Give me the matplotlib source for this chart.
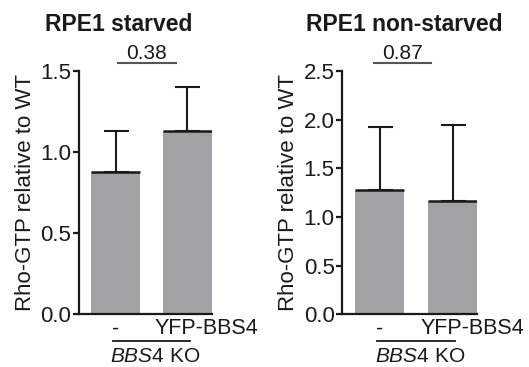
import numpy as np
import matplotlib
matplotlib.use("Agg")
import matplotlib.pyplot as plt
import matplotlib.transforms as mtransforms

plt.rcParams['font.family'] = ['Liberation Sans', 'DejaVu Sans']
plt.rcParams['mathtext.fontset'] = 'custom'
plt.rcParams['mathtext.rm'] = 'Liberation Sans'
plt.rcParams['mathtext.it'] = 'Liberation Sans:italic'

# data
conditions = ["-", "YFP-BBS4"]
starved_mean = [0.88, 1.13]
starved_err = [0.25, 0.275]
nonstarved_mean = [1.28, 1.16]
nonstarved_err = [0.65, 0.79]
pvals = ["0.38", "0.87"]
titles = ["RPE1 starved", "RPE1 non-starved"]
ymax = [1.5, 2.5]
yticks = [np.arange(0, 1.51, 0.5), np.arange(0, 2.51, 0.5)]

bar_color = "#a2a1a6"
ink = "#1a1a1a"
w = 0.67

fig = plt.figure(figsize=(5.29, 3.67), dpi=100)
ax1 = fig.add_axes([0.149, 0.144, 0.251, 0.662])
ax2 = fig.add_axes([0.647, 0.144, 0.255, 0.662])

# per-panel positions that do not follow from the data
title_x = [0.30, 0.46]
sig_span = [(0.03, 0.84), (-0.08, 0.71)]

panels = [(ax1, starved_mean, starved_err), (ax2, nonstarved_mean, nonstarved_err)]
for i, (ax, mean, err) in enumerate(panels):
    x = np.arange(len(conditions))
    ax.bar(x, mean, width=w, color=bar_color, edgecolor="none", zorder=2)
    ax.errorbar(x, mean, yerr=[np.zeros(len(err)), err], fmt="none",
                ecolor=ink, elinewidth=1.5, capsize=9, capthick=1.5, zorder=3)
    ax.hlines(mean, x - w / 2, x + w / 2, colors=ink, linewidth=1.8, zorder=4)

    ax.set_xlim(-0.51, 1 + w / 2)
    ax.set_ylim(0, ymax[i])
    ax.set_yticks(yticks[i])
    ax.set_yticklabels([f"{t:.1f}" for t in yticks[i]], fontsize=16, color=ink)
    ax.tick_params(axis="y", length=4.5, width=1.6, pad=1, colors=ink)
    ax.set_xticks(x)
    ax.set_xticklabels(conditions, fontsize=15.5, color=ink)
    ax.tick_params(axis="x", length=0, pad=3)
    # YFP-BBS4 label sits right of its bar centre in the reference
    lab = ax.get_xticklabels()[1]
    off = mtransforms.ScaledTranslation(14 / 72, 0, fig.dpi_scale_trans)
    lab.set_transform(lab.get_transform() + off)

    for s in ["top", "right"]:
        ax.spines[s].set_visible(False)
    for s in ["left", "bottom"]:
        ax.spines[s].set_linewidth(1.6)
        ax.spines[s].set_color(ink)

    ax.set_ylabel("Rho-GTP relative to WT", fontsize=16, color=ink, labelpad=3)

    # title
    ax.text(title_x[i], 1.165, titles[i], transform=ax.transAxes, ha="center",
            va="baseline", fontsize=16.5, fontweight="bold", color=ink)

    # significance bar
    trans = mtransforms.blended_transform_factory(ax.transData, ax.transAxes)
    x0, x1 = sig_span[i]
    ax.plot([x0, x1], [1.033, 1.033], transform=trans, color="#555555",
            lw=1.5, clip_on=False)
    ax.text((x0 + x1) / 2, 1.05, pvals[i], transform=trans, ha="center",
            va="baseline", fontsize=15, color=ink)

    # group bracket under the tick labels
    ax.plot([-0.04, 1.03], [-0.11, -0.11], transform=trans, color=ink,
            lw=1.3, clip_on=False)
    ax.text(0.55, -0.196, r"$\it{BBS4}$ KO", transform=trans, ha="center",
            va="baseline", fontsize=15, color=ink)

fig.savefig("out.png", dpi=100)
